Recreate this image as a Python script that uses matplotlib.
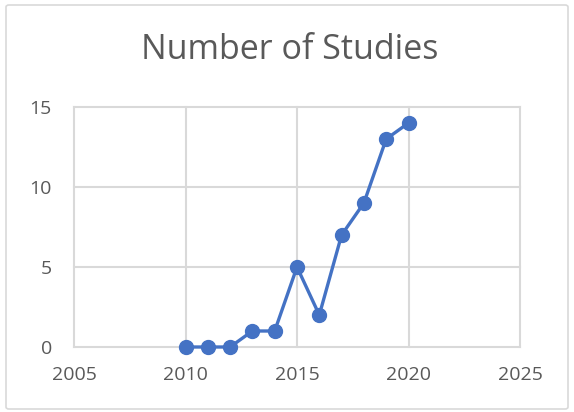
import matplotlib
matplotlib.use("Agg")
import matplotlib.pyplot as plt
from matplotlib.patches import FancyBboxPatch

years = [2010, 2011, 2012, 2013, 2014, 2015, 2016, 2017, 2018, 2019, 2020]
studies = [0, 0, 0, 1, 1, 5, 2, 7, 9, 13, 14]
x_ticks = [2005, 2010, 2015, 2020, 2025]
y_ticks = [0, 5, 10, 15]
title = "Number of Studies"

plt.rcParams['font.family'] = ['Open Sans', 'DejaVu Sans']

fig = plt.figure(figsize=(5.74, 4.12), dpi=100)
ax = fig.add_axes([74/574, 1-347/412, (520-74)/574, (347-107)/412])

ax.plot(years, studies, color='#4472C4', lw=2.4, marker='o', ms=10, zorder=3, clip_on=False)
ax.set_xlim(2005, 2025)
ax.set_ylim(0, 15)
ax.set_xticks(x_ticks)
ax.set_yticks(y_ticks)
ax.grid(True, color='#D9D9D9', lw=1.5)
for line in ax.get_xgridlines() + ax.get_ygridlines():
    line.set_clip_on(False)
for s in ax.spines.values():
    s.set_visible(False)
ax.tick_params(length=0, labelsize=14, colors='#595959')
ax.tick_params(axis='x', pad=14)
ax.tick_params(axis='y', pad=16)

fig.text(0.505, 1-50/412, title, ha='center', va='center', fontsize=24.5, color='#595959')

border = FancyBboxPatch((6/574, 3/412), (568-6)/574, (410-6)/412,
                        boxstyle='round,pad=0,rounding_size=0.005',
                        transform=fig.transFigure, fill=False,
                        edgecolor='#D9D9D9', lw=1.2)
fig.patches.append(border)

fig.savefig('out.png', dpi=100)
